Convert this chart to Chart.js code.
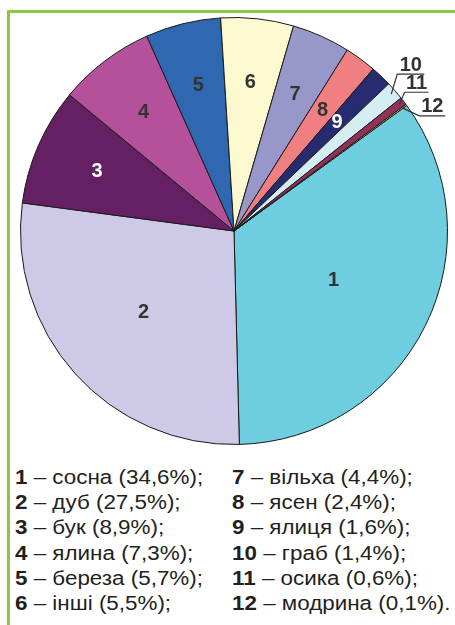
<!DOCTYPE html>
<html>
<head>
<meta charset="utf-8">
<script src="https://cdn.jsdelivr.net/npm/chart.js@4/dist/chart.umd.min.js"></script>
<style>
  html, body { margin: 0; padding: 0; background: #fff; }
  body { width: 455px; height: 625px; position: relative; overflow: hidden; }
  .frame-top { position: absolute; left: 7px; top: 10px; width: 448px; height: 3px; background: #8dc641; }
  .frame-left { position: absolute; left: 7px; top: 10px; width: 3px; height: 615px; background: #8dc641; }
  #wrap { position: absolute; left: 20px; top: 17px; width: 428px; height: 428px; }
  .legend { position: absolute; top: 465px; font-family: "Liberation Sans", Arial, sans-serif;
            font-size: 20px; line-height: 25.2px; color: #231f20; white-space: nowrap;
            transform: scaleX(1.12); transform-origin: 0 0; }
  .legend b { font-weight: bold; }
</style>
</head>
<body>
<div class="frame-top"></div>
<div class="frame-left"></div>
<div id="wrap"><canvas id="pie"></canvas></div>
<div class="legend" id="col1" style="left:15px"></div>
<div class="legend" id="col2" style="left:232px"></div>
<script>
// Склад лісів за породами, % площі
const sliceNumbers = ['1', '2', '3', '4', '5', '6', '7', '8', '9', '10', '11', '12'];
const categories = ['сосна', 'дуб', 'бук', 'ялина', 'береза', 'інші', 'вільха', 'ясен', 'ялиця', 'граб', 'осика', 'модрина'];
const shares = [34.6, 27.5, 8.9, 7.3, 5.7, 5.5, 4.4, 2.4, 1.6, 1.4, 0.6, 0.1];
const sliceColors = ['#6ecdde', '#cdc9e6', '#642062', '#b5519b', '#2f67b1', '#fcf8cf',
                     '#9797c9', '#f07f82', '#272b70', '#d3edf3', '#93305e', '#f4ea1b'];

// Legend in two columns of six
const fmt = v => v.toFixed(1).replace('.', ',');
['col1', 'col2'].forEach((id, c) => {
  const el = document.getElementById(id);
  for (let i = c * 6; i < c * 6 + 6; i++) {
    const row = document.createElement('div');
    const end = i === categories.length - 1 ? '.' : ';';
    row.innerHTML = '<b>' + sliceNumbers[i] + '</b> – ' + categories[i] + ' (' + fmt(shares[i]) + '%)' + end;
    el.appendChild(row);
  }
});

// Numbers inside the slices, and leader lines for the thin ones
const sliceLabels = {
  id: 'sliceLabels',
  afterDatasetsDraw(chart) {
    const ctx = chart.ctx;
    const arcs = chart.getDatasetMeta(0).data;
    ctx.save();
    ctx.font = 'bold 20px "Liberation Sans", Arial, sans-serif';
    ctx.textAlign = 'center';
    ctx.textBaseline = 'middle';
    arcs.forEach((arc, i) => {
      const p = arc.getProps(['x', 'y', 'startAngle', 'endAngle', 'outerRadius'], true);
      const mid = (p.startAngle + p.endAngle) / 2;
      const R = p.outerRadius;
      if (i <= 8) {
        const f = i === 0 ? 0.52 : (i === 1 ? 0.57 : 0.70);
        const lx = p.x + Math.cos(mid) * R * f;
        const ly = p.y + Math.sin(mid) * R * f;
        ctx.fillStyle = (i === 2 || i === 8) ? '#ffffff' : '#333333';
        ctx.fillText(sliceNumbers[i], lx, ly);
      } else {
        // callout: anchor inside slice edge -> elbow -> underline, text on top
        const ax = p.x + Math.cos(mid) * (R - 5);
        const ay = p.y + Math.sin(mid) * (R - 5);
        const elbow = { 9: [6, -20, 27], 10: [5, -12, 24], 11: [17, 8, 26] }[i];
        const ex = ax + elbow[0], ey = ay + elbow[1];
        ctx.strokeStyle = '#333333';
        ctx.lineWidth = 1.2;
        ctx.beginPath();
        ctx.moveTo(ax, ay);
        ctx.lineTo(ex, ey);
        ctx.lineTo(ex + elbow[2], ey);
        ctx.stroke();
        ctx.fillStyle = '#333333';
        ctx.fillText(sliceNumbers[i], ex + elbow[2] / 2, ey - 9);
      }
    });
    ctx.restore();
  }
};

new Chart(document.getElementById('pie'), {
  type: 'pie',
  data: {
    labels: categories,
    datasets: [{
      data: shares,
      backgroundColor: sliceColors,
      borderColor: '#1a1a1a',
      borderWidth: 1,
      hoverOffset: 0
    }]
  },
  options: {
    responsive: true,
    maintainAspectRatio: false,
    animation: false,
    events: [],
    rotation: 54,
    layout: { padding: 0 },
    plugins: { legend: { display: false }, tooltip: { enabled: false } }
  },
  plugins: [sliceLabels]
});
</script>
</body>
</html>
